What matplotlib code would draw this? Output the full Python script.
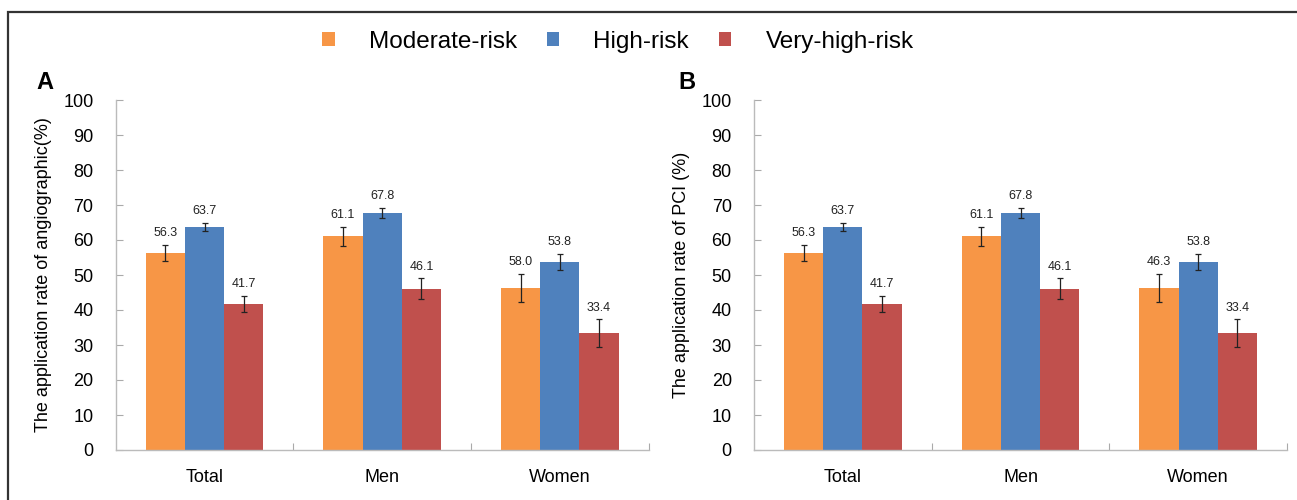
import matplotlib
matplotlib.use("Agg")
import matplotlib.pyplot as plt
from matplotlib.patches import Rectangle
import numpy as np

plt.rcParams['font.family'] = ['Liberation Sans', 'DejaVu Sans']

categories = ["Total", "Men", "Women"]
series = ["Moderate-risk", "High-risk", "Very-high-risk"]
colors = ["#F79646", "#4F81BD", "#C0504D"]

# Panel A
a_moderate = [56.3, 61.1, 46.3]
a_high = [63.7, 67.8, 53.8]
a_veryhigh = [41.7, 46.1, 33.4]
a_moderate_lbl = ["56.3", "61.1", "58.0"]
a_high_lbl = ["63.7", "67.8", "53.8"]
a_veryhigh_lbl = ["41.7", "46.1", "33.4"]

# Panel B
b_moderate = [56.3, 61.1, 46.3]
b_high = [63.7, 67.8, 53.8]
b_veryhigh = [41.7, 46.1, 33.4]
b_moderate_lbl = ["56.3", "61.1", "46.3"]
b_high_lbl = ["63.7", "67.8", "53.8"]
b_veryhigh_lbl = ["41.7", "46.1", "33.4"]

# Error (half-width)
err_moderate = [2.3, 2.7, 4.1]
err_high = [1.2, 1.4, 2.3]
err_veryhigh = [2.4, 3.0, 4.0]

yticks = list(range(0, 101, 10))

W, H = 1297, 500
fig = plt.figure(figsize=(W / 100, H / 100), dpi=100)

# outer frame
fig.patches.append(Rectangle((8 / W, -0.1), 1.2, (1 - 12 / H) + 0.1, transform=fig.transFigure,
                             fill=False, edgecolor="#333333", linewidth=1.6))

def panel(rect, vals, lbls, ylabel, letter, letter_x):
    ax = fig.add_axes(rect)
    x = np.arange(len(categories))
    bw = 0.221
    errs = [err_moderate, err_high, err_veryhigh]
    for i in range(3):
        xs = x + (i - 1) * bw
        ax.bar(xs, vals[i], width=bw, color=colors[i], label=series[i], zorder=2)
        ax.errorbar(xs, vals[i], yerr=errs[i], fmt='none', ecolor="#222222",
                    elinewidth=0.9, capsize=2.5, capthick=0.9, zorder=3)
        for xi, v, e, t in zip(xs, vals[i], errs[i], lbls[i]):
            ax.annotate(t, (xi, v + e), xytext=(0, 4), textcoords='offset points',
                        ha='center', va='bottom', fontsize=9, color="#222222")
    ax.set_xlim(-0.5, 2.5)
    ax.set_ylim(0, 100)
    ax.set_yticks(yticks)
    ax.set_yticklabels([str(t) for t in yticks], fontsize=13)
    ax.set_xticks([0.5, 1.5, 2.5], minor=False)
    ax.set_xticklabels(["", "", ""])
    ax.set_xticks(x, minor=True)
    ax.set_xticklabels(categories, minor=True, fontsize=13)
    ax.tick_params(axis='x', which='minor', length=0, pad=14)
    ax.tick_params(axis='x', which='major', direction='in', length=5, color="#AAAAAA")
    ax.tick_params(axis='y', direction='in', length=5, color="#AAAAAA", pad=16)
    for s in ['top', 'right']:
        ax.spines[s].set_visible(False)
    for s in ['left', 'bottom']:
        ax.spines[s].set_color("#BBBBBB")
        ax.spines[s].set_linewidth(1.0)
    ax.set_ylabel(ylabel, fontsize=13, labelpad=8)
    fig.text(letter_x, 0.835, letter, fontsize=17, fontweight='bold', ha='left', va='center')
    return ax

axA = panel([115.7 / W, 0.1, (648.6 - 115.7) / W, 0.7],
            [a_moderate, a_high, a_veryhigh],
            [a_moderate_lbl, a_high_lbl, a_veryhigh_lbl],
            "The application rate of angiographic(%)", "A", 36 / W)
axB = panel([754 / W, 0.1, (1287 - 754) / W, 0.7],
            [b_moderate, b_high, b_veryhigh],
            [b_moderate_lbl, b_high_lbl, b_veryhigh_lbl],
            "The application rate of PCI (%)", "B", 678 / W)

handles, labels = axA.get_legend_handles_labels()
fig.legend(handles, labels, loc='center', bbox_to_anchor=(618 / W, 1 - 42 / H), ncol=3,
           frameon=False, fontsize=17.5, handlelength=0.5, handleheight=0.5,
           columnspacing=1.25, handletextpad=1.4)

fig.savefig("out.png", dpi=100)
